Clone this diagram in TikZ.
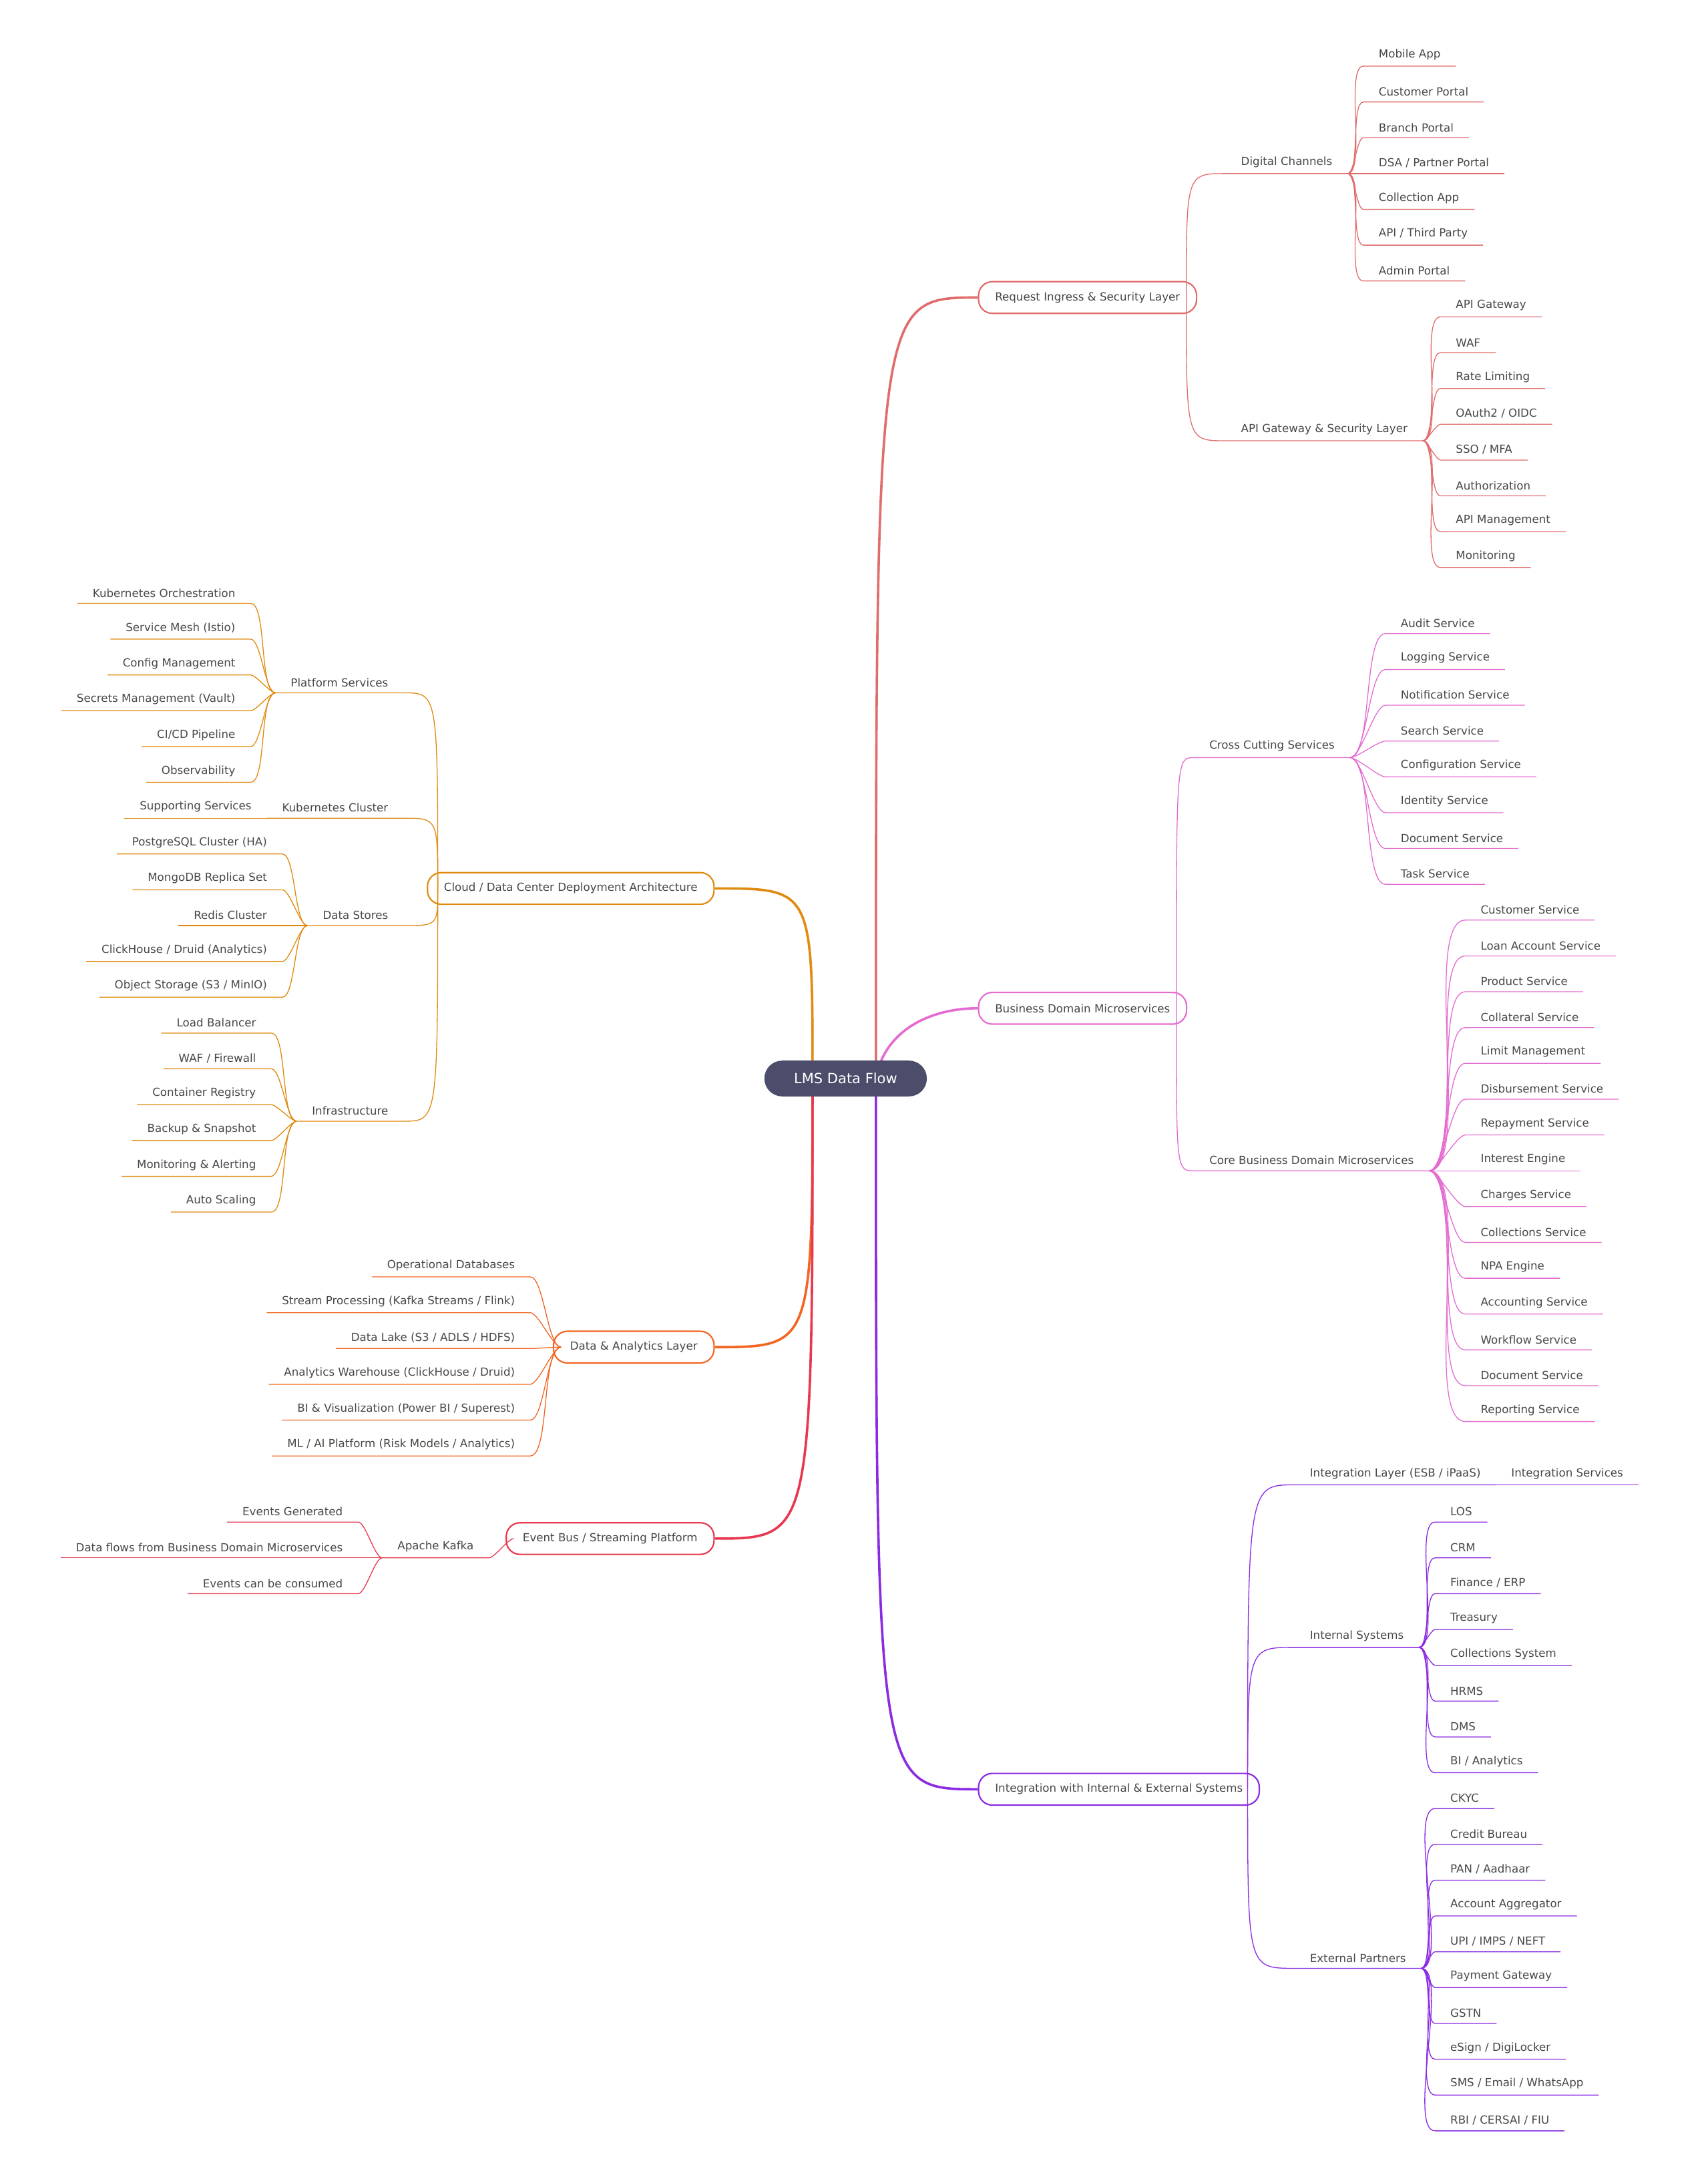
\documentclass[tikz,border=0pt]{standalone}
\usepackage{fontspec}
\setmainfont{DejaVu Sans}
\usetikzlibrary{backgrounds}
\definecolor{txtc}{HTML}{474747}
\definecolor{rootc}{HTML}{4B4D6B}
\definecolor{reqc}{HTML}{E06C6C}
\definecolor{bizc}{HTML}{E46BD0}
\definecolor{intc}{HTML}{8A2BE2}
\definecolor{cloudc}{HTML}{E08A10}
\definecolor{datac}{HTML}{F26522}
\definecolor{evc}{HTML}{E8384F}
\begin{document}
\begin{tikzpicture}[
    x = 0.05cm, y = -0.05cm, % one unit per pixel, y downwards
    font = \fontsize{11.5}{13}\selectfont,
    text = txtc,
    leaf/.style = {inner xsep=0.55cm, inner ysep=6pt},
    topic/.style = {draw, rounded corners=0.5cm, line width=1.5pt, fill=white,
                    minimum height=1.15cm, inner xsep=0.6cm},
    link/.style = {line width=0.9pt},
    fan/.style = {to path={.. controls (\tikztostart |- \tikztotarget) .. (\tikztotarget)}},
    twig/.style = {out=#1, in=#1+180, looseness=0.45},
    trunk/.style = {line width=2.5pt}
  ]

  \useasboundingbox (0,0) rectangle (1240,1566);

  % root
  \node[fill=rootc, text=white, rounded corners=0.65cm, minimum width=5.9cm,
        minimum height=1.3cm, font=\fontsize{14.5}{16}\selectfont] (root) at (614,783) {LMS Data Flow};
  \coordinate (rR) at ([xshift=1.1cm]root.center);
  \coordinate (rL) at ([xshift=-1.2cm]root.center);

  % main topics
  \node[topic, draw=reqc, anchor=west] (req) at (710,216) {Request Ingress \& Security Layer};
  \node[topic, draw=bizc, anchor=west] (biz) at (710,732) {Business Domain Microservices};
  \node[topic, draw=intc, anchor=west] (int) at (710,1299) {Integration with Internal \& External Systems};
  \node[topic, draw=cloudc, anchor=east] (cloud) at (519,645) {Cloud / Data Center Deployment Architecture};
  \node[topic, draw=datac, anchor=east] (data) at (519,978) {Data \& Analytics Layer};
  \node[topic, draw=evc, anchor=east] (ev) at (519,1117) {Event Bus / Streaming Platform};

  \begin{scope}[on background layer]
    \draw[trunk, reqc] (rR) to[fan] (req.west);
    \draw[trunk, bizc] (rR) to[out=80, in=180] (biz.west);
    \draw[trunk, intc] (rR) to[fan] (int.west);
    \draw[trunk, cloudc] (rL) to[fan] (cloud.east);
    \draw[trunk, datac] (rL) to[fan] (data.east);
    \draw[trunk, evc] (rL) to[fan] (ev.east);
  \end{scope}

  % ---- request ingress
  \node[leaf, anchor=south west] (dch) at (890,126) {Digital Channels};
  \node[leaf, anchor=south west] (gw) at (890,320) {API Gateway \& Security Layer};
  \foreach \n in {dch, gw}
    \draw[link, reqc] ([xshift=-0.4cm]req.east) to[fan] (\n.south west) -- (\n.south east);
  \foreach \t [count=\i] in {Mobile App, Customer Portal, Branch Portal, DSA / Partner Portal,
      Collection App, API / Third Party, Admin Portal} {
    \node[leaf, anchor=south west] (dc\i) at (990,{26*\i+22}) {\t};
    \draw[link, reqc] (dch.south east) to[twig=0] (dc\i.south west) -- (dc\i.south east);
  }
  \foreach \t [count=\i] in {API Gateway, WAF, Rate Limiting, OAuth2 / OIDC, SSO / MFA,
      Authorization, API Management, Monitoring} {
    \node[leaf, anchor=south west] (gw\i) at (1046,{26*\i+204}) {\t};
    \draw[link, reqc] (gw.south east) to[twig=0] (gw\i.south west) -- (gw\i.south east);
  }

  % ---- business domain
  \node[leaf, anchor=south west] (cc) at (867,550) {Cross Cutting Services};
  \node[leaf, anchor=south west] (core) at (867,850) {Core Business Domain Microservices};
  \foreach \n in {cc, core}
    \draw[link, bizc] ([xshift=-0.4cm]biz.east) to[fan] (\n.south west) -- (\n.south east);
  \foreach \t [count=\i] in {Audit Service, Logging Service, Notification Service, Search Service,
      Configuration Service, Identity Service, Document Service, Task Service} {
    \node[leaf, anchor=south west] (cc\i) at (1006,{26*\i+434}) {\t};
    \draw[link, bizc] (cc.south east) to[twig=0] (cc\i.south west) -- (cc\i.south east);
  }
  \foreach \t [count=\i] in {Customer Service, Loan Account Service, Product Service,
      Collateral Service, Limit Management, Disbursement Service, Repayment Service,
      Interest Engine, Charges Service, Collections Service, NPA Engine, Accounting Service,
      Workflow Service, Document Service, Reporting Service} {
    \node[leaf, anchor=south west] (core\i) at (1064,{26*\i+642}) {\t};
    \draw[link, bizc] (core.south east) to[twig=0] (core\i.south west) -- (core\i.south east);
  }

  % ---- integration
  \node[leaf, anchor=south west] (esb) at (940,1078) {Integration Layer (ESB / iPaaS)};
  \node[leaf, anchor=south west] (esbs) at (esb.south east) {Integration Services};
  \node[leaf, anchor=south west] (ins) at (940,1196) {Internal Systems};
  \node[leaf, anchor=south west] (ext) at (940,1429) {External Partners};
  \foreach \n in {esb, ins, ext}
    \draw[link, intc] ([xshift=-0.45cm]int.east) to[fan] (\n.south west) -- (\n.south east);
  \draw[link, intc] (esb.south east) -- (esbs.south east);
  \foreach \t [count=\i] in {LOS, CRM, Finance / ERP, Treasury, Collections System, HRMS, DMS,
      BI / Analytics} {
    \node[leaf, anchor=south west] (ins\i) at (1042,{26*\i+1079}) {\t};
    \draw[link, intc] (ins.south east) to[twig=0] (ins\i.south west) -- (ins\i.south east);
  }
  \foreach \t [count=\i] in {CKYC, Credit Bureau, PAN / Aadhaar, Account Aggregator,
      UPI / IMPS / NEFT, Payment Gateway, GSTN, eSign / DigiLocker, SMS / Email / WhatsApp,
      RBI / CERSAI / FIU} {
    \node[leaf, anchor=south west] (ext\i) at (1042,{26*\i+1287}) {\t};
    \draw[link, intc] (ext.south east) to[twig=0] (ext\i.south west) -- (ext\i.south east);
  }

  % ---- cloud deployment
  \node[leaf, anchor=south east] (plat) at (293,503) {Platform Services};
  \node[leaf, anchor=south east] (kube) at (293,594) {Kubernetes Cluster};
  \node[leaf, anchor=south east] (kubes) at (kube.south west) {Supporting Services};
  \node[leaf, anchor=south east] (store) at (293,672) {Data Stores};
  \node[leaf, anchor=south east] (infra) at (293,814) {Infrastructure};
  \foreach \n in {plat, kube, store, infra}
    \draw[link, cloudc] ([xshift=0.4cm]cloud.west) to[fan] (\n.south east) -- (\n.south west);
  \draw[link, cloudc] (kube.south west) -- (kubes.south west);
  \foreach \t [count=\i] in {Kubernetes Orchestration, Service Mesh (Istio), Config Management,
      Secrets Management (Vault), CI/CD Pipeline, Observability} {
    \node[leaf, anchor=south east] (plat\i) at (182,{26*\i+412}) {\t};
    \draw[link, cloudc] (plat.south west) to[twig=180] (plat\i.south east) -- (plat\i.south west);
  }
  \foreach \t [count=\i] in {PostgreSQL Cluster (HA), MongoDB Replica Set, Redis Cluster,
      ClickHouse / Druid (Analytics), Object Storage (S3 / MinIO)} {
    \node[leaf, anchor=south east] (store\i) at (205,{26*\i+594}) {\t};
    \draw[link, cloudc] (store.south west) to[twig=180] (store\i.south east) -- (store\i.south west);
  }
  \foreach \t [count=\i] in {Load Balancer, WAF / Firewall, Container Registry, Backup \& Snapshot,
      Monitoring \& Alerting, Auto Scaling} {
    \node[leaf, anchor=south east] (infra\i) at (197,{26*\i+724}) {\t};
    \draw[link, cloudc] (infra.south west) to[twig=180] (infra\i.south east) -- (infra\i.south west);
  }

  % ---- data & analytics
  \foreach \t [count=\i] in {Operational Databases, Stream Processing (Kafka Streams / Flink),
      Data Lake (S3 / ADLS / HDFS), Analytics Warehouse (ClickHouse / Druid),
      BI \& Visualization (Power BI / Superest), ML / AI Platform (Risk Models / Analytics)} {
    \node[leaf, anchor=south east] (da\i) at (385,{26*\i+901}) {\t};
    \draw[link, datac] ([xshift=0.3cm]data.west) to[twig=180] (da\i.south east) -- (da\i.south west);
  }

  % ---- event bus
  \node[leaf, anchor=south east] (kafka) at (355,1131) {Apache Kafka};
  \draw[link, evc] ([xshift=0.3cm]ev.west) to[twig=180] (kafka.south east) -- (kafka.south west);
  \foreach \t [count=\i] in {Events Generated, Data flows from Business Domain Microservices,
      Events can be consumed} {
    \node[leaf, anchor=south east] (ev\i) at (260,{26*\i+1079}) {\t};
    \draw[link, evc] (kafka.south west) to[twig=180] (ev\i.south east) -- (ev\i.south west);
  }

\end{tikzpicture}
\end{document}
